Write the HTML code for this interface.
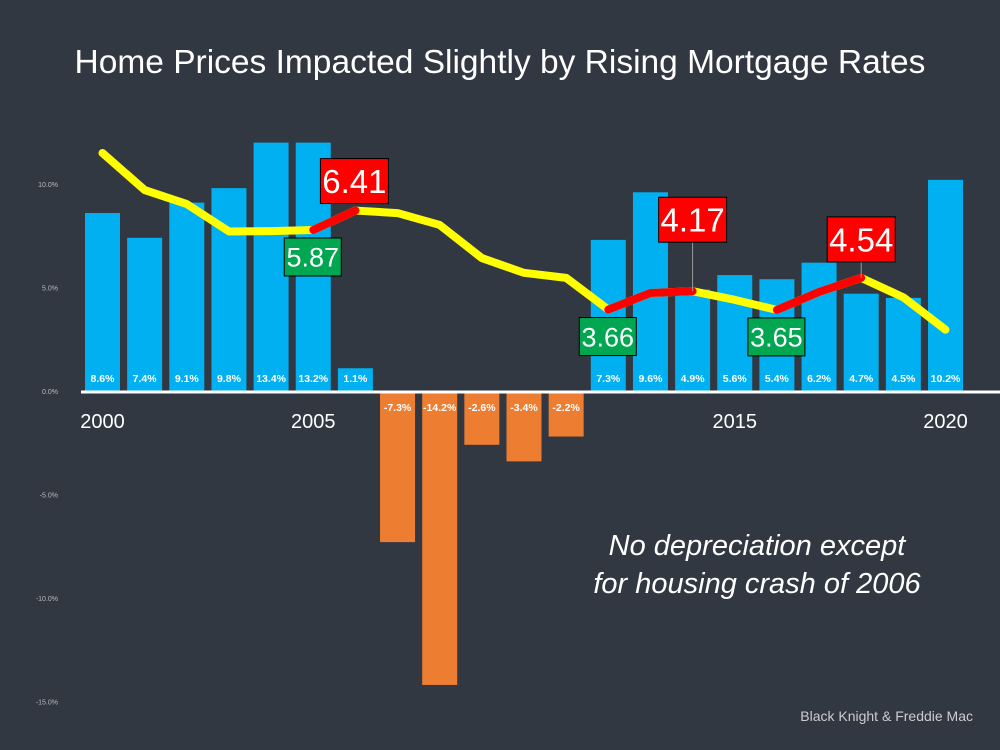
<!DOCTYPE html>
<html><head><meta charset="utf-8"><style>
body{margin:0;background:#323841;}
svg{display:block;font-family:"Liberation Sans",sans-serif;}
</style></head><body>
<svg id="c" width="1000" height="750">
<rect width="1000" height="750" fill="#323841"/>
<text x="500" y="73" text-anchor="middle" font-size="33.5" fill="#fff">Home Prices Impacted Slightly by Rising Mortgage Rates</text>
<text x="757" y="555" text-anchor="middle" font-size="29" font-style="italic" fill="#fff">No depreciation except</text>
<text x="757" y="593" text-anchor="middle" font-size="29" font-style="italic" fill="#fff">for housing crash of 2006</text>
<text x="973" y="721" text-anchor="end" font-size="14" fill="#ccc">Black Knight &amp; Freddie Mac</text>
</svg>
<script>
const years=[2000,2001,2002,2003,2004,2005,2006,2007,2008,2009,2010,2011,2012,2013,2014,2015,2016,2017,2018,2019,2020];
const priceChange=[8.6,7.4,9.1,9.8,13.4,13.2,1.1,-7.3,-14.2,-2.6,-3.4,-2.2,7.3,9.6,4.9,5.6,5.4,6.2,4.7,4.5,10.2];
const mortgageRates=[8.01,6.98,6.59,5.83,5.84,5.87,6.41,6.34,6.01,5.09,4.68,4.54,3.66,4.12,4.17,3.93,3.65,4.15,4.54,4.0,3.1];
const yTicks=[10,5,0,-5,-10,-15];
const yearLabels=[2000,2005,2015,2020];
const risingSegments=[[2005,2006],[2012,2014],[2016,2018]];
const callouts=[{y:2006,v:"6.41",up:true},{y:2005,v:"5.87",up:false},{y:2014,v:"4.17",up:true},{y:2018,v:"4.54",up:true},{y:2012,v:"3.66",up:false},{y:2016,v:"3.65",up:false}];
const NS="http://www.w3.org/2000/svg";
const svg=document.getElementById('c');
function el(t,a,p){const e=document.createElementNS(NS,t);for(const k in a)e.setAttribute(k,a[k]);(p||svg).appendChild(e);return e;}
const x=yr=>102.5+(yr-2000)*42.15;
const y=v=>391-Math.min(v,12)*20.7;
const ry=r=>230-(r-5.87)*36;
yTicks.forEach(t=>{const e=el('text',{x:58,y:y(t)+3,'text-anchor':'end','font-size':7,fill:'#bbb'});e.textContent=t.toFixed(1)+'%';

});
years.forEach((yr,i)=>{const v=priceChange[i];const cx=x(yr);
const top=v>=0?y(v):y(0);const h=Math.abs(y(v)-y(0));
const b=el('rect',{x:cx-17.5,y:top,width:35,height:h,fill:v>=0?'#00b0f0':'#ed7d31'});


const t=el('text',{x:cx,y:v>=0?382:411,'text-anchor':'middle','font-size':10.5,'font-weight':'bold',fill:'#fff'});
t.textContent=v.toFixed(1)+'%';

});
const ax=el('line',{x1:81,y1:392,x2:1000,y2:392,stroke:'#fff','stroke-width':3});


yearLabels.forEach(yr=>{const t=el('text',{x:x(yr),y:428,'text-anchor':'middle','font-size':20,fill:'#fff'});t.textContent=yr;

});
const pts=years.map((yr,i)=>x(yr)+','+ry(mortgageRates[i])).join(' ');
const ln=el('polyline',{points:pts,fill:'none',stroke:'#ffff00','stroke-width':8,'stroke-linecap':'round','stroke-linejoin':'round'});


risingSegments.forEach(s=>{const p=[];years.forEach((yr,i)=>{if(yr>=s[0]&&yr<=s[1])p.push(x(yr)+','+ry(mortgageRates[i]));});
const r=el('polyline',{points:p.join(' '),fill:'none',stroke:'#ff0000','stroke-width':8,'stroke-linecap':'round','stroke-linejoin':'round'});

});
callouts.forEach(c=>{const i=years.indexOf(c.y);const px=x(c.y),py=ry(mortgageRates[i]);
let bx,by,w,h,fs;
if(c.up){w=68;h=45;fs=33;bx=px-34;by=py-(c.y===2006?52:c.y===2014?94:61);if(c.y===2006)bx=px-35;}
else{w=57;h=38;fs=27;bx=px-29;by=py+8;}
if(c.up&&c.y!==2006){const l=el('line',{x1:px,y1:by+h,x2:px,y2:py,stroke:'#999','stroke-width':1});

}
const g=el('g',{});


el('rect',{x:bx,y:by,width:w,height:h,fill:c.up?'#ff0000':'#00a650',stroke:'#000','stroke-width':1},g);
const t=el('text',{x:bx+w/2,y:by+h/2+fs*0.36,'text-anchor':'middle','font-size':fs,fill:'#fff'},g);t.textContent=c.v;});
</script>
</body></html>
